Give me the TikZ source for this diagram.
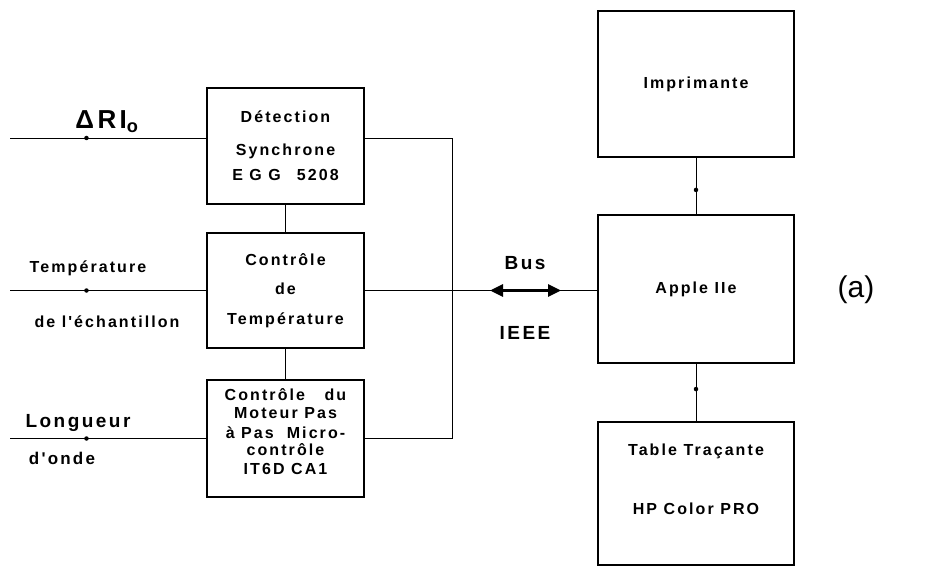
\documentclass[tikz,border=0pt]{standalone}
\usepackage{fontspec}
\usepackage{tikz}
\usetikzlibrary{arrows.meta}
\newfontfamily\labfont[LetterSpace=13]{Liberation Sans Bold}
\newfontfamily\plainfont{Liberation Sans}

\begin{document}
\begin{tikzpicture}[x=1pt, y=-1pt,
    box/.style={draw, line width=1.8pt, inner sep=0pt, minimum width=157pt, align=center,
                font=\labfont\fontsize{16}{19}\selectfont},
    rbox/.style={box, minimum width=196pt},
    lab/.style={font=\labfont\fontsize{16}{19}\selectfont},
    biglab/.style={font=\labfont\fontsize{19}{22}\selectfont},
    wire/.style={line width=0.9pt},
    dotmark/.style={circle, fill, inner sep=0pt, minimum size=4.5pt},
    busarrow/.style={line width=3pt, {Triangle[length=13pt,width=12pt]}-{Triangle[length=13pt,width=12pt]}}]
    \useasboundingbox (0,0) rectangle (946,567);

    % left column
    \node[box, minimum height=116pt] (det) at (285.5,146) {Détection\\[14pt]Synchrone\\[6pt]E G G\quad 5208};
    \node[box, minimum height=115pt] (ctl) at (285.5,290.5) {Contrôle\\[10pt]de\\[11pt]Température};
    \node[box, minimum height=117pt] (mot) at (285.5,438.5) {Contrôle\ \ \ du\\[-1pt]Moteur Pas\\[1pt]à Pas\ \ Micro-\\[-2pt]contrôle\\[0pt]IT6D CA1\\[-6pt]~};
    \draw[wire] (det) -- (ctl);
    \draw[wire] (ctl) -- (mot);

    % inputs
    \coordinate (inD) at (10,138);
    \coordinate (inC) at (10,290.5);
    \coordinate (inM) at (10,438.5);
    \draw[wire] (inD) -- node[pos=0.39, dotmark]{} ([yshift=8pt]det.west);
    \draw[wire] (inC) -- node[pos=0.39, dotmark]{} (ctl.west);
    \draw[wire] (inM) -- node[pos=0.39, dotmark]{} (mot.west);
    \node[font=\labfont\fontsize{26}{28}\selectfont] (dri) at (107,122) {ΔRI\textsubscript{o}};
    \node[lab] (tempA) at (88,268) {Température};
    \node[lab] (tempB) at (107,322) {de l'échantillon};
    \node[biglab] (longA) at (78,423) {Longueur};
    \node[font=\labfont\fontsize{17}{20}\selectfont] (longB) at (62,458) {d'onde};

    % bus
    \coordinate (busT) at (452,138);
    \coordinate (busB) at (452,438.5);
    \draw[wire] ([yshift=8pt]det.east) -- (busT) -- (busB) -- (mot.east);

    % right column
    \node[rbox, minimum height=146pt] (imp) at (696,84) {Imprimante};
    \node[rbox, minimum height=148pt] (apple) at (696,289) {Apple IIe};
    \node[rbox, minimum height=143pt] (table) at (696,493.5) {Table Traçante\\[40pt]HP Color PRO\\[9pt]~};
    \draw[wire] (ctl.east) -- (ctl.east -| apple.west);
    \coordinate (arrL) at (490,290.5);
    \coordinate (arrR) at (561,290.5);
    \draw[busarrow] (arrL) -- (arrR);
    \node[biglab] (bus) at (525,263) {Bus};
    \node[biglab] (ieee) at (525,333) {IEEE};
    \draw[wire] (apple) -- node[pos=0.43, dotmark]{} (imp);
    \draw[wire] (apple) -- node[pos=0.44, dotmark]{} (table);

    \node[font=\plainfont\fontsize{30}{32}\selectfont] (tag) at (856,290) {(a)};
\end{tikzpicture}
\end{document}
